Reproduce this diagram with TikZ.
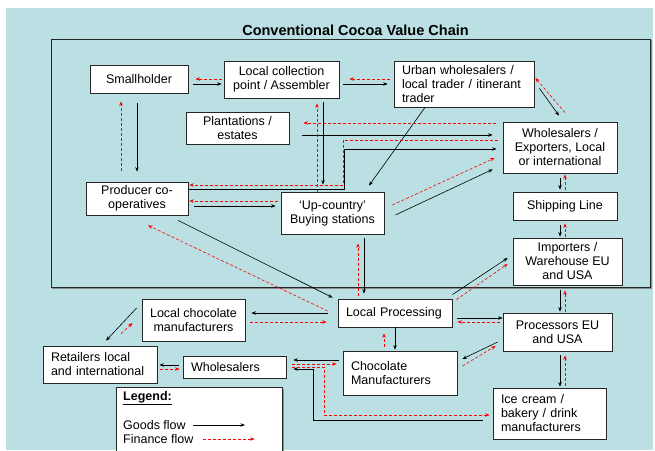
\documentclass[tikz,border=0pt]{standalone}
\usepackage{fontspec}
\setmainfont{Liberation Sans}
\usetikzlibrary{arrows.meta,calc,shadows}
\definecolor{bgblue}{RGB}{186,224,227}
\begin{document}
\begin{tikzpicture}[x=1pt, y=-1pt,
    box/.style = {rectangle, draw=black!85, line width=0.8pt, fill=white, inner sep=0pt, align=center,
                  font=\fontsize{12.5}{14}\selectfont,
                  drop shadow={shadow xshift=1.2pt, shadow yshift=-1.2pt, fill=black!45, opacity=1}},
    leftbox/.style = {box, align=left},
    legendtext/.style = {anchor=west, inner sep=0pt, font=\fontsize{12.5}{14}\selectfont},
    goods/.style = {draw=black, line width=0.6pt, -{Stealth[length=4.5pt, width=3.5pt]}, shorten <=5pt, shorten >=2pt},
    finance/.style = {draw=red, line width=0.6pt, dash pattern=on 3pt off 2pt, -{Stealth[length=4.5pt, width=3.5pt]}, shorten <=2pt, shorten >=4pt},
    exact/.style = {shorten <=0pt, shorten >=0pt}
  ]
  \useasboundingbox (0,0) rectangle (655,450);
  \fill[bgblue] (6,8) rectangle (653,450);
  \draw[black!45, line width=1pt] (651.2,40) |- (52,288.2);
  \draw[black!85, line width=0.9pt] (51,39) rectangle (650,287);
  \node[font=\bfseries\fontsize{14.5}{17}\selectfont] (title) at (355.5,30) {Conventional Cocoa Value Chain};

  \node[box, minimum width=98, minimum height=28] (small) at (139,79) {Smallholder};
  \node[box, minimum width=115, minimum height=37] (collect) at (281.5,79.5) {Local collection\\point / Assembler};
  \node[leftbox, text width=124, minimum width=140, minimum height=46] (urban) at (464,84) {Urban wholesalers /\\local trader / itinerant\\trader};
  \node[box, minimum width=103, minimum height=32] (plant) at (237.5,128) {Plantations /\\estates};
  \node[box, minimum width=114, minimum height=51] (export) at (560,147.5) {Wholesalers /\\Exporters, Local\\or international};
  \node[box, minimum width=102, minimum height=33] (coop) at (137,198.5) {Producer co-\\operatives};
  \node[box, minimum width=103, minimum height=42] (buying) at (332.5,213) {‘Up-country’\\Buying stations};
  \node[box, minimum width=104, minimum height=28] (ship) at (565,206) {Shipping Line};
  \node[box, minimum width=109, minimum height=47] (import) at (567.5,261.5) {Importers /\\Warehouse EU\\and USA};
  \node[leftbox, text width=98, minimum width=114, minimum height=28] (lproc) at (395,313) {Local Processing};
  \node[box, minimum width=109, minimum height=38] (proc) at (557.5,332) {Processors EU\\and USA};
  \node[leftbox, text width=98, minimum width=114, minimum height=44] (choc) at (400,373) {Chocolate\\Manufacturers};
  \node[leftbox, text width=97, minimum width=113, minimum height=51] (ice) at (549.5,413.5) {Ice cream /\\bakery / drink\\manufacturers};
  \node[box, minimum width=103, minimum height=42] (lchoc) at (193.5,320) {Local chocolate\\manufacturers};
  \node[leftbox, text width=98, minimum width=114, minimum height=37] (retail) at (100,364.5) {Retailers local\\and international};
  \node[leftbox, text width=87, minimum width=103, minimum height=22] (whole) at (234.5,367) {Wholesalers};

  \node[box, minimum width=166, minimum height=68, anchor=north west] (legend) at (116,387) {};
  \node[legendtext, font=\bfseries\fontsize{12.5}{14}\selectfont] (lhead) at (123,398) {\underline{Legend:}};
  \node[legendtext] (lgoods) at (123,425) {Goods flow};
  \node[legendtext] (lfin) at (123,439) {Finance flow};
  \draw[goods, shorten <=7pt, shorten >=0pt] (lgoods.east) -- ++(59,0);
  \draw[finance, shorten <=9pt, shorten >=0pt] (lfin.east) -- ++(61,0);

  \draw[goods] (small.east |- 0,84) -- (collect.west |- 0,84);
  \draw[finance, shorten >=7pt] (collect.west |- 0,79) -- (small.east |- 0,79);
  \draw[goods, shorten <=4pt, shorten >=6pt] (collect.east |- 0,84) -- (urban.west |- 0,84);
  \draw[finance, shorten <=4pt, shorten >=10pt] (urban.west |- 0,79) -- (collect.east |- 0,79);
  \draw[goods, exact] ($(urban.south east)+(5,-19)$) -- ($(export.north)+(-1,-6)$);
  \draw[finance, exact] ($(export.north)+(5,-9)$) -- ($(urban.east)+(1,-6)$);
  \draw[goods, exact] ($(urban.south)+(-39,0)$) -- ($(buying.north)+(36.5,-6)$);
  \draw[goods, shorten <=10pt, shorten >=10pt] (small.south -| 137,0) -- (coop.north -| 137,0);
  \draw[finance, shorten <=11pt, shorten >=8pt] (coop.north -| 121,0) -- (small.south -| 121,0);
  \draw[goods, shorten <=4pt, shorten >=7pt] (collect.south -| 323,0) -- (buying.north -| 323,0);
  \draw[finance, shorten <=0pt, shorten >=5pt] (buying.north -| 317,0) -- (collect.south -| 317,0);
  \draw[finance, shorten <=5pt, shorten >=1pt] (export.west |- 0,140) -| (343,185) -- (coop.east |- 0,185);
  \draw[goods, shorten <=0pt, shorten >=6pt] (coop.east |- 0,189) -| (344,149) -- (export.west |- 0,149);
  \draw[goods, shorten <=13pt, shorten >=10pt] (plant.east |- 0,135) -- (export.west |- 0,135);
  \draw[finance, shorten <=7pt, shorten >=14pt] (export.west |- 0,123) -- (plant.east |- 0,123);
  \draw[finance, shorten <=3pt, shorten >=1pt] (buying.west |- 0,201) -- (coop.east |- 0,201);
  \draw[goods, shorten <=6pt, shorten >=5pt] (coop.east |- 0,206) -- (buying.west |- 0,206);
  \draw[goods, exact] ($(buying.east)+(11,2)$) -- ($(export.south west)+(-10,-4)$);
  \draw[finance, exact] ($(buying.east)+(8,-8)$) -- ($(export.west)+(-8,10.5)$);
  \draw[goods] (export.south -| 560,0) -- (ship.north -| 560,0);
  \draw[finance, shorten <=2pt, shorten >=1pt] (ship.north -| 565,0) -- (export.south -| 565,0);
  \draw[goods, shorten >=1pt] (ship.south -| 560,0) -- (import.north -| 560,0);
  \draw[finance, shorten <=1pt, shorten >=3pt] (import.north -| 565,0) -- (ship.south -| 565,0);
  \draw[goods, shorten >=1pt] (import.south -| 560,0) -- (proc.north -| 560,0);
  \draw[finance, shorten <=1pt, shorten >=5pt] (proc.north -| 565,0) -- (import.south -| 565,0);
  \draw[goods, shorten <=4pt, shorten >=1pt] (proc.south -| 560,0) -- (ice.north -| 560,0);
  \draw[finance] (ice.north -| 565,0) -- (proc.south -| 565,0);
  \draw[goods, exact] ($(lproc.north east)+(0,-4)$) -- ($(import.west)+(-5,-3.5)$);
  \draw[finance, exact] ($(lproc.north east)+(4,1)$) -- ($(import.west)+(-5,2.5)$);
  \draw[goods, shorten >=0pt] (lproc.east |- 0,318) -- (proc.west |- 0,318);
  \draw[finance, shorten <=3pt, shorten >=5pt] (proc.west |- 0,322) -- (lproc.east |- 0,322);
  \draw[goods, exact] ($(proc.west)+(-5,10)$) -- ($(choc.east)+(5,-14)$);
  \draw[finance, exact] ($(choc.east)+(5,-7)$) -- ($(proc.west)+(-7,14)$);
  \draw[goods, shorten <=0pt, shorten >=1pt] (lproc.south -| 395,0) -- (choc.north -| 395,0);
  \draw[finance, shorten <=4pt, shorten >=6pt] (choc.north -| 384,0) -- (lproc.south -| 384,0);
  \draw[goods, shorten <=4pt, shorten >=5pt] (buying.south -| 364,0) -- (lproc.north -| 364,0);
  \draw[finance, shorten <=3pt, shorten >=9pt] (lproc.north -| 358,0) -- (buying.south -| 358,0);
  \draw[goods, exact] ($(coop.south)+(41,5)$) -- ($(lproc.north west)+(-5,-1)$);
  \draw[finance, exact] ($(lproc.west)+(-10,-2)$) -- ($(coop.south)+(11,10)$);
  \draw[goods, shorten <=10pt, shorten >=6pt] (lproc.west |- 0,313) -- (lchoc.east |- 0,313);
  \draw[finance, shorten <=5pt, shorten >=11pt] (lchoc.east |- 0,322) -- (lproc.west |- 0,322);
  \draw[goods, exact] ($(lchoc.west)+(-5,-12)$) -- ($(retail.north)+(6,-5)$);
  \draw[finance, exact] ($(retail.north)+(21,-12)$) -- ($(lchoc.west)+(-9,3)$);
  \draw[goods, shorten <=4pt, shorten >=2pt] (whole.west |- 0,365) -- (retail.east |- 0,365);
  \draw[finance, shorten <=3pt, shorten >=3pt] (retail.east |- 0,369) -- (whole.west |- 0,369);
  \draw[goods, shorten <=4pt, shorten >=7pt] (choc.west |- 0,360) -- (whole.east |- 0,360);
  \draw[finance, shorten <=6pt, shorten >=6pt] (whole.east |- 0,364) -- (choc.west |- 0,364);
  \draw[goods, shorten <=10pt, shorten >=7pt] (ice.west |- 0,420) -| (313,369) -- (whole.east |- 0,369);
  \draw[finance, shorten <=6pt, shorten >=3pt] (whole.east |- 0,367) -| (324,415) -- (ice.west |- 0,415);
\end{tikzpicture}
\end{document}
